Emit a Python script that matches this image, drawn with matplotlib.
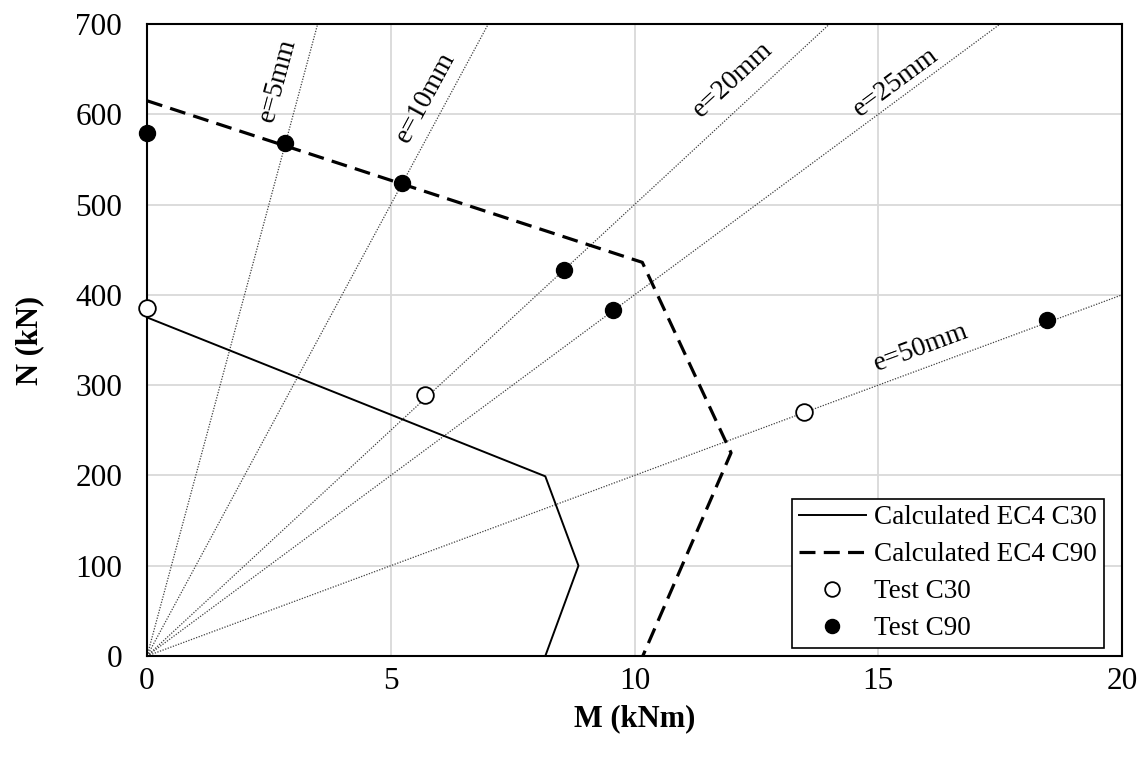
import numpy as np
import matplotlib
matplotlib.use("Agg")
import matplotlib.pyplot as plt

# Interaction curves (M in kNm, N in kN)
ec4_c30_m = [0.0, 8.17, 8.85, 8.17]
ec4_c30_n = [375, 199, 100, 0]
ec4_c90_m = [0.0, 10.16, 11.98, 10.17]
ec4_c90_n = [615, 436, 225, 0]

# Test results
test_c30_m = [0.0, 5.7, 13.47]
test_c30_n = [386, 289, 270]
test_c90_m = [0.0, 2.84, 5.22, 8.55, 9.55, 18.47]
test_c90_n = [579, 568, 524, 428, 383, 372]

# Load eccentricities (mm) and their label positions (M, N)
ecc_mm = [5, 10, 20, 25, 50]
ecc_labels = ["e=5mm", "e=10mm", "e=20mm", "e=25mm", "e=50mm"]
ecc_label_m = [2.69, 5.72, 12.02, 15.36, 15.88]
ecc_label_n = [638, 619, 638, 636, 342]

x_ticks = [0, 5, 10, 15, 20]
y_ticks = [0, 100, 200, 300, 400, 500, 600, 700]

plt.rcParams["font.family"] = ["Liberation Serif", "DejaVu Serif"]

fig = plt.figure(figsize=(11.47, 7.58), dpi=100)
ax = fig.add_axes([0.1282, 0.1346, 0.8500, 0.8337])
ax.set_xlim(0, 20)
ax.set_ylim(0, 700)

# Constant-eccentricity load paths N = M / e
m_line = np.array([0.0, 20.0])
for e in ecc_mm:
    ax.plot(m_line, m_line * 1000.0 / e, color="#404040", lw=0.9,
            linestyle=(0, (1, 1.2)), zorder=2, clip_on=True)

ax.plot(ec4_c30_m, ec4_c30_n, color="black", lw=1.4, zorder=3,
        label="Calculated EC4 C30")
ax.plot(ec4_c90_m, ec4_c90_n, color="black", lw=2.3, zorder=3,
        linestyle=(0, (5, 2.6)), label="Calculated EC4 C90")
ax.plot(test_c30_m, test_c30_n, linestyle="none", marker="o", ms=12,
        mfc="white", mec="black", mew=1.3, zorder=5, clip_on=False,
        label="Test C30")
ax.plot(test_c90_m, test_c90_n, linestyle="none", marker="o", ms=11.5,
        mfc="black", mec="black", zorder=5, clip_on=False,
        label="Test C90")

# Rotated eccentricity labels following each line's on-screen slope
fig.canvas.draw()
for e, txt, lm, ln in zip(ecc_mm, ecc_labels, ecc_label_m, ecc_label_n):
    p0 = ax.transData.transform((0, 0))
    p1 = ax.transData.transform((10, 10000.0 / e))
    ang = np.degrees(np.arctan2(p1[1] - p0[1], p1[0] - p0[0]))
    ax.text(lm, ln, txt, rotation=ang, rotation_mode="anchor",
            ha="center", va="center", fontsize=20, zorder=4)

ax.set_xticks(x_ticks)
ax.set_yticks(y_ticks)
ax.tick_params(axis="both", length=0, labelsize=22.5)
ax.tick_params(axis="y", pad=18)
ax.tick_params(axis="x", pad=8)
ax.grid(True, color="#d9d9d9", lw=1.3)
ax.set_axisbelow(True)
for s in ax.spines.values():
    s.set_color("black")
    s.set_linewidth(1.5)

ax.set_xlabel("M (kNm)", fontsize=22, fontweight="bold", labelpad=6)
ax.set_ylabel("N (kN)", fontsize=22, fontweight="bold", labelpad=22)

leg = ax.legend(loc="lower right", bbox_to_anchor=(0.9815, 0.0127),
                borderaxespad=0, fontsize=19.5, frameon=True, fancybox=False,
                framealpha=1, edgecolor="black", handlelength=2.5,
                labelspacing=0.44, borderpad=0.25, handletextpad=0.3,
                markerscale=0.88)
leg.get_frame().set_linewidth(1.2)

fig.savefig("out.png", dpi=100)
